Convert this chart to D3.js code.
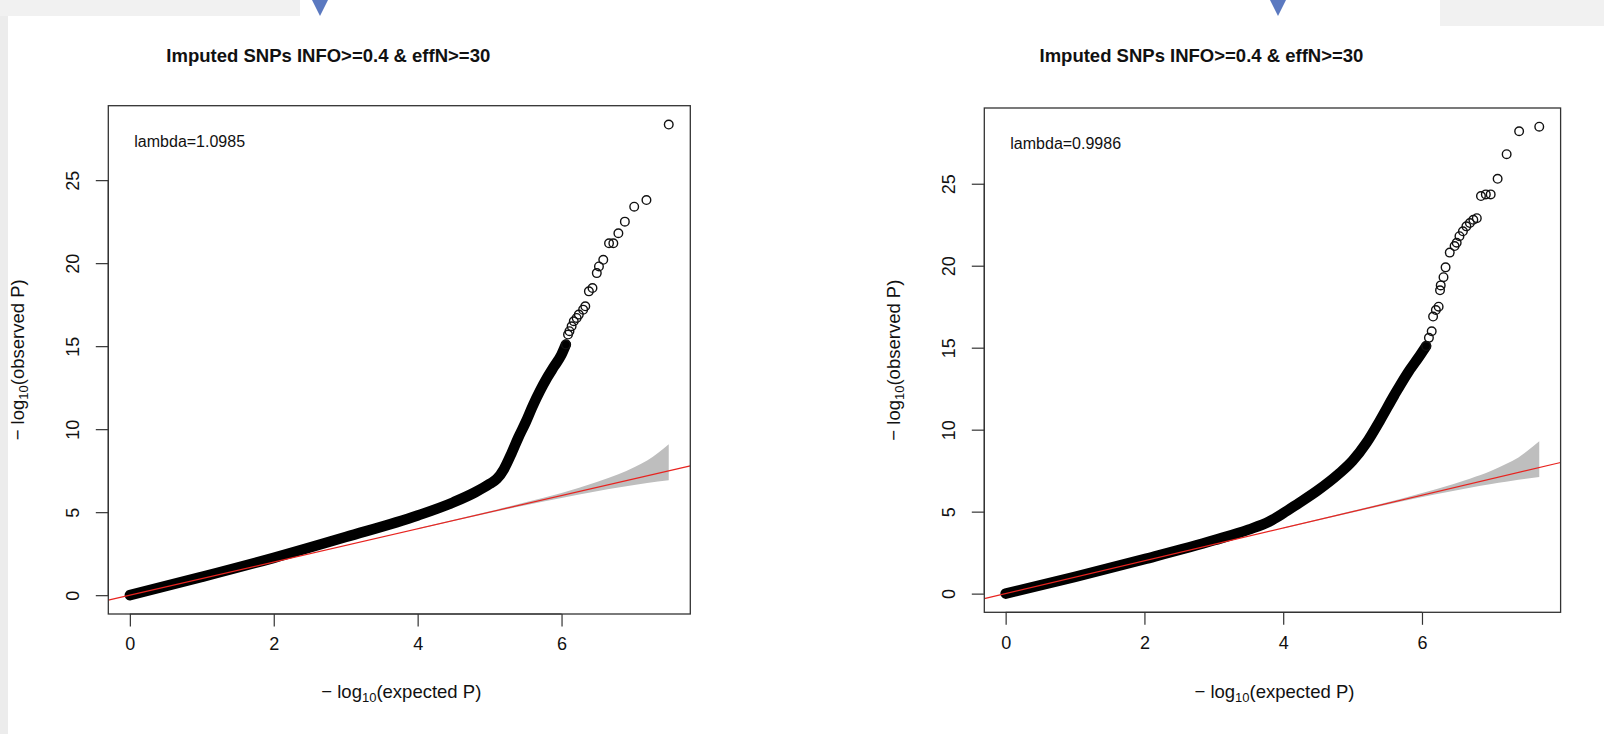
<!DOCTYPE html>
<html>
<head>
<meta charset="utf-8">
<script src="https://cdn.jsdelivr.net/npm/d3@7"></script>
<style>
  html, body { margin: 0; padding: 0; background: #ffffff; }
  svg { display: block; }
  text { font-family: "Liberation Sans", Arial, Helvetica, sans-serif; }
</style>
</head>
<body>
<svg id="chart" width="1604" height="734"></svg>
<script>
// ---------------- DATA ----------------
const titles = ["Imputed SNPs INFO>=0.4 & effN>=30", "Imputed SNPs INFO>=0.4 & effN>=30"];
const lambdaLabels = ["lambda=1.0985", "lambda=0.9986"];
const xTicks = [0, 2, 4, 6];
const yTicks = [0, 5, 10, 15, 20, 25];

// left panel: dense part of the observed curve (expected, observed)
const leftDenseExp = [0, 1, 2, 3, 4, 4.5, 4.8, 5.0, 5.1, 5.2, 5.3, 5.4, 5.5, 5.6, 5.7, 5.8, 5.9, 6.0, 6.06];
const leftDenseObs = [0, 1.1, 2.25, 3.5, 4.8, 5.6, 6.2, 6.7, 7.0, 7.6, 8.5, 9.5, 10.4, 11.4, 12.3, 13.1, 13.8, 14.5, 15.1];
// left panel: individually visible points in the tail
const leftTailExp = [6.06, 6.09, 6.11, 6.14, 6.17, 6.21, 6.24, 6.30, 6.33, 6.38, 6.43, 6.49, 6.52, 6.58, 6.66, 6.72, 6.79, 6.88, 7.01, 7.18, 7.49];
const leftTailObs = [15.1, 15.7, 15.9, 16.2, 16.5, 16.7, 16.9, 17.2, 17.4, 18.3, 18.5, 19.4, 19.8, 20.2, 21.2, 21.2, 21.8, 22.5, 23.4, 23.8, 28.35];
// left panel: confidence band (expected, lower, upper)
const leftBandExp = [4.0, 5.0, 5.5, 6.0, 6.49, 6.79, 7.01, 7.19, 7.49];
const leftBandLo  = [3.97, 4.95, 5.42, 5.86, 6.26, 6.48, 6.63, 6.75, 6.92];
const leftBandHi  = [4.03, 5.05, 5.59, 6.16, 6.81, 7.28, 7.70, 8.11, 9.09];

// right panel
const rightDenseExp = [0, 1, 2, 3, 3.5, 3.8, 4.0, 4.2, 4.5, 4.8, 5.0, 5.2, 5.4, 5.6, 5.8, 5.95, 6.06];
const rightDenseObs = [0, 1.02, 2.1, 3.25, 3.9, 4.4, 4.9, 5.45, 6.3, 7.3, 8.1, 9.2, 10.6, 12.1, 13.5, 14.4, 15.1];
const rightTailExp = [6.06, 6.10, 6.14, 6.16, 6.20, 6.24, 6.26, 6.27, 6.31, 6.34, 6.40, 6.47, 6.50, 6.54, 6.59, 6.64, 6.69, 6.74, 6.79, 6.85, 6.92, 6.99, 7.09, 7.22, 7.40, 7.69];
const rightTailObs = [15.1, 15.6, 16.0, 16.9, 17.3, 17.5, 18.5, 18.8, 19.3, 19.9, 20.8, 21.2, 21.4, 21.8, 22.1, 22.4, 22.6, 22.8, 22.9, 24.25, 24.35, 24.35, 25.3, 26.8, 28.2, 28.48];
const rightBandExp = [4.0, 5.0, 5.7, 6.2, 6.69, 7.0, 7.21, 7.39, 7.69];
const rightBandLo  = [3.97, 4.95, 5.62, 6.06, 6.46, 6.69, 6.83, 6.94, 7.12];
const rightBandHi  = [4.03, 5.05, 5.79, 6.36, 7.01, 7.49, 7.90, 8.31, 9.29];

// ---------------- LAYOUT ----------------
const panels = [
  { box: [108.3, 690.3, 105.7, 614], xmax: 7.49, ymax: 28.35,
    dExp: leftDenseExp, dObs: leftDenseObs, tExp: leftTailExp, tObs: leftTailObs,
    bExp: leftBandExp, bLo: leftBandLo, bHi: leftBandHi, title: titles[0], lambda: lambdaLabels[0] },
  { box: [984.3, 1560.6, 108, 612.3], xmax: 7.69, ymax: 28.48,
    dExp: rightDenseExp, dObs: rightDenseObs, tExp: rightTailExp, tObs: rightTailObs,
    bExp: rightBandExp, bLo: rightBandLo, bHi: rightBandHi, title: titles[1], lambda: lambdaLabels[1] }
];

const svg = d3.select("#chart");

// slide background bits
svg.append("rect").attr("x", 0).attr("y", 0).attr("width", 1604).attr("height", 734).attr("fill", "#ffffff");
svg.append("rect").attr("x", 0).attr("y", 0).attr("width", 8).attr("height", 734).attr("fill", "#ececec");
svg.append("rect").attr("x", 0).attr("y", 0).attr("width", 300).attr("height", 16).attr("fill", "#f1f1f1");
svg.append("rect").attr("x", 1440).attr("y", 0).attr("width", 164).attr("height", 26).attr("fill", "#f1f1f1");
svg.append("path").attr("d", "M312,0 L328,0 L320,16 Z").attr("fill", "#5b79c0");
svg.append("path").attr("d", "M1270,0 L1286,0 L1278,16 Z").attr("fill", "#5b79c0");

panels.forEach((p, i) => {
  const [L, R, T, B] = p.box;
  const xPad = p.xmax * 0.04, yPad = p.ymax * 0.04;
  const x = d3.scaleLinear().domain([-xPad, p.xmax + xPad]).range([L, R]);
  const y = d3.scaleLinear().domain([-yPad, p.ymax + yPad]).range([B, T]);
  const g = svg.append("g");

  const clipId = "clip" + i;
  svg.append("clipPath").attr("id", clipId)
    .append("rect").attr("x", L).attr("y", T).attr("width", R - L).attr("height", B - T);

  // confidence band
  const bandData = p.bExp.map((e, k) => ({ e, lo: p.bLo[k], hi: p.bHi[k] }));
  g.append("path")
    .datum(bandData)
    .attr("d", d3.area().x(d => x(d.e)).y0(d => y(d.lo)).y1(d => y(d.hi)).curve(d3.curveMonotoneX))
    .attr("fill", "#bebebe");

  // dense band of points
  const dense = p.dExp.map((e, k) => [e, p.dObs[k]]);
  g.append("path")
    .datum(dense)
    .attr("d", d3.line().x(d => x(d[0])).y(d => y(d[1])).curve(d3.curveMonotoneX))
    .attr("fill", "none").attr("stroke", "#000").attr("stroke-width", 10.5)
    .attr("stroke-linecap", "round").attr("stroke-linejoin", "round");

  // tail points
  const tail = p.tExp.map((e, k) => [e, p.tObs[k]]);
  g.selectAll("circle.tail").data(tail).enter().append("circle")
    .attr("class", "tail")
    .attr("cx", d => x(d[0])).attr("cy", d => y(d[1])).attr("r", 4.3)
    .attr("fill", "none").attr("stroke", "#111").attr("stroke-width", 1.4);

  // red diagonal
  g.append("line")
    .attr("clip-path", `url(#${clipId})`)
    .attr("x1", x(-xPad)).attr("y1", y(-xPad))
    .attr("x2", x(p.xmax + xPad)).attr("y2", y(p.xmax + xPad))
    .attr("stroke", "#e8231f").attr("stroke-width", 1.2);

  // box
  g.append("rect").attr("x", L).attr("y", T).attr("width", R - L).attr("height", B - T)
    .attr("fill", "none").attr("stroke", "#333").attr("stroke-width", 1.3);

  // x axis
  const xa = g.append("g").attr("transform", `translate(0,${B})`)
    .call(d3.axisBottom(x).tickValues(xTicks).tickSize(12.5).tickPadding(11).tickFormat(d3.format("d")));
  xa.select(".domain").attr("d", `M${x(xTicks[0])},0H${x(xTicks[xTicks.length - 1])}`).attr("stroke", "#333").attr("stroke-width", 1.2);
  xa.selectAll(".tick line").attr("stroke", "#333").attr("stroke-width", 1.2);
  xa.selectAll(".tick text").attr("font-size", 18).attr("fill", "#111").attr("font-family", "Liberation Sans, Arial, sans-serif");

  // y axis
  const ya = g.append("g").attr("transform", `translate(${L},0)`)
    .call(d3.axisLeft(y).tickValues(yTicks).tickSize(12.5).tickPadding(0).tickFormat(d3.format("d")));
  ya.select(".domain").attr("d", `M0,${y(yTicks[0])}V${y(yTicks[yTicks.length - 1])}`).attr("stroke", "#333").attr("stroke-width", 1.2);
  ya.selectAll(".tick line").attr("stroke", "#333").attr("stroke-width", 1.2);
  ya.selectAll(".tick text")
    .attr("font-size", 18).attr("fill", "#111").attr("font-family", "Liberation Sans, Arial, sans-serif")
    .attr("x", null).attr("dy", null)
    .attr("text-anchor", "middle")
    .attr("transform", "translate(-35.8,0) rotate(-90)")
    .attr("dominant-baseline", "central");

  // title
  g.append("text").attr("x", (L + R) / 2 - 71).attr("y", 62)
    .attr("text-anchor", "middle").attr("font-weight", "bold").attr("font-size", 18.5).attr("fill", "#111")
    .text(p.title);

  // lambda
  g.append("text").attr("x", L + 26).attr("y", T + 41)
    .attr("font-size", 16).attr("fill", "#111").text(p.lambda);

  // x axis title
  const xt = g.append("text").attr("x", (L + R) / 2 + 2).attr("y", 698)
    .attr("text-anchor", "middle").attr("font-size", 18.5).attr("fill", "#111");
  xt.append("tspan").text("\u2212 log");
  xt.append("tspan").attr("font-size", 13).attr("dy", 4).text("10");
  xt.append("tspan").attr("dy", -4).text("(expected P)");

  // y axis title
  const yt = g.append("text")
    .attr("transform", `translate(${L - 84},${(T + B) / 2}) rotate(-90)`)
    .attr("text-anchor", "middle").attr("font-size", 18.5).attr("fill", "#111");
  yt.append("tspan").text("\u2212 log");
  yt.append("tspan").attr("font-size", 13).attr("dy", 4).text("10");
  yt.append("tspan").attr("dy", -4).text("(observed P)");
});
</script>
</body>
</html>
